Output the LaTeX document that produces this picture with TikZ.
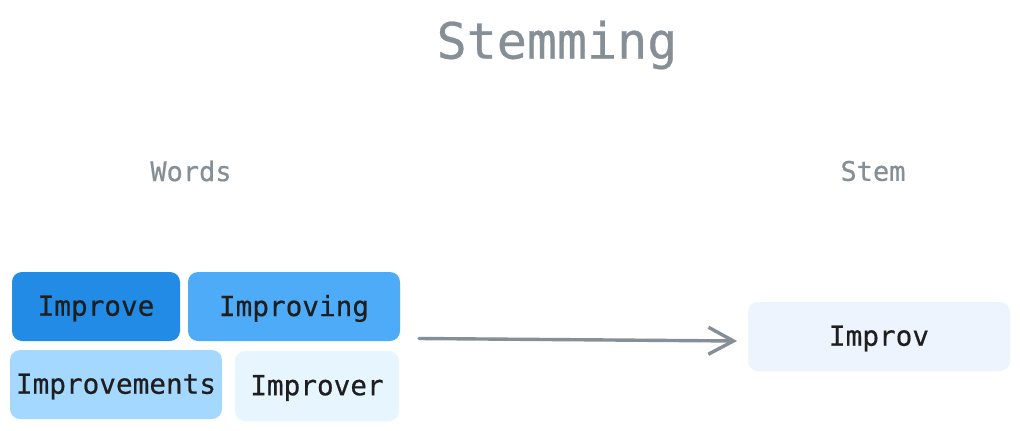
\documentclass[tikz,border=0pt]{standalone}
\usepackage{fontspec}
\setmonofont[FakeBold=0.5]{DejaVu Sans Mono}
\usetikzlibrary{arrows.meta}
\definecolor{gtitle}{HTML}{868E96}
\definecolor{ink}{HTML}{1E1E1E}
\definecolor{bA}{HTML}{228BE6}
\definecolor{bB}{HTML}{4DABF7}
\definecolor{bC}{HTML}{A5D8FF}
\definecolor{bD}{HTML}{E7F5FF}
\definecolor{bE}{HTML}{EDF4FD}
\tikzset{
  wordbox/.style={rounded corners=10pt, inner sep=0pt, text=ink, font=\ttfamily\fontsize{27.7}{32}\selectfont},
  heading/.style={text=gtitle, font=\ttfamily\fontsize{27}{32}\selectfont},
  flow/.style={draw=gtitle, line width=3.4pt, line cap=round, -{Straight Barb[length=25pt,width=27pt,line width=3.4pt]}}
}
\begin{document}
\begin{tikzpicture}[x=1pt,y=-1pt]
\useasboundingbox[fill=white] (0,0) rectangle (1020,431);
\node[text=gtitle, font=\ttfamily\fontsize{50}{56}\selectfont] (title) at (557,45) {Stemming};
\node[heading] (words) at (191,171) {Words};
\node[heading] (stemh) at (873,171) {Stem};
\fill[bA, rounded corners=10pt] (12,272) rectangle (180,341);
\node[wordbox] (improve) at (96,308.5) {Improve};
\fill[bB, rounded corners=10pt] (188,272) rectangle (400,341);
\node[wordbox] (improving) at (294,308.5) {Improving};
\fill[bC, rounded corners=10pt] (10,350) rectangle (222,419);
\node[wordbox] (improvements) at (116,386.5) {Improvements};
\fill[bD, rounded corners=10pt] (235,351) rectangle (399,421);
\node[wordbox] (improver) at (317,388) {Improver};
\fill[bE, rounded corners=10pt] (748,302) rectangle (1010,371);
\node[wordbox] (improv) at (879,338.5) {Improv};
\coordinate (a1) at (419,338.5);
\coordinate (a2) at (737,341);
\draw[flow] (a1) -- (a2);
\end{tikzpicture}
\end{document}
